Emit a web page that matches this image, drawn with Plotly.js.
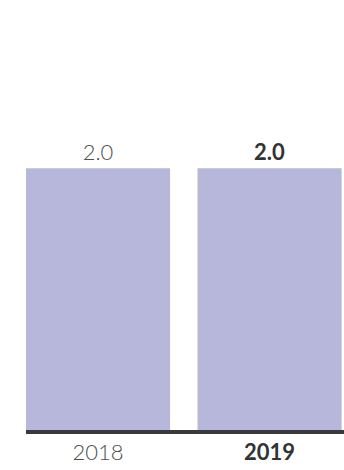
<!DOCTYPE html>
<html>
<head>
<meta charset="utf-8">
<script src="https://cdn.plot.ly/plotly-3.0.1.min.js"></script>
<style>html,body{margin:0;padding:0;background:#fff;}#chart{width:344px;height:470px;}</style>
</head>
<body>
<div id="chart"></div>
<script>
const years = ["2018", "2019"];
const values = [2.0, 2.0];
const labelText = ["<span style='font-weight:300'>2.0</span>", "<b>2.0</b>"];
const tickLabels = ["<span style='color:#4f4f4f;font-weight:300'>2018</span>", "<b>2019</b>"];

const trace = {
  type: "bar",
  x: years,
  y: values,
  width: 0.84,
  marker: {color: "#b6b7da"},
  text: labelText,
  textposition: "outside",
  cliponaxis: false,
  textfont: {family: "Lato, 'Open Sans', sans-serif", size: 22, color: ["#4f4f4f", "#333333"]},
  hoverinfo: "none"
};

const layout = {
  width: 344,
  height: 470,
  margin: {l: 26, r: 0, t: 78, b: 40},
  paper_bgcolor: "#ffffff",
  plot_bgcolor: "#ffffff",
  showlegend: false,
  xaxis: {
    type: "category",
    range: [-0.42, 1.434],
    tickvals: years,
    ticktext: tickLabels,
    showline: true,
    linecolor: "#3a3a3a",
    linewidth: 4,
    ticks: "",
    showgrid: false,
    zeroline: false,
    tickfont: {family: "Lato, 'Open Sans', sans-serif", size: 22, color: "#333333"},
    fixedrange: true
  },
  yaxis: {
    range: [0, 2.69],
    visible: false,
    showgrid: false,
    zeroline: false,
    fixedrange: true
  }
};

Plotly.newPlot("chart", [trace], layout, {displayModeBar: false, staticPlot: true});
</script>
</body>
</html>
